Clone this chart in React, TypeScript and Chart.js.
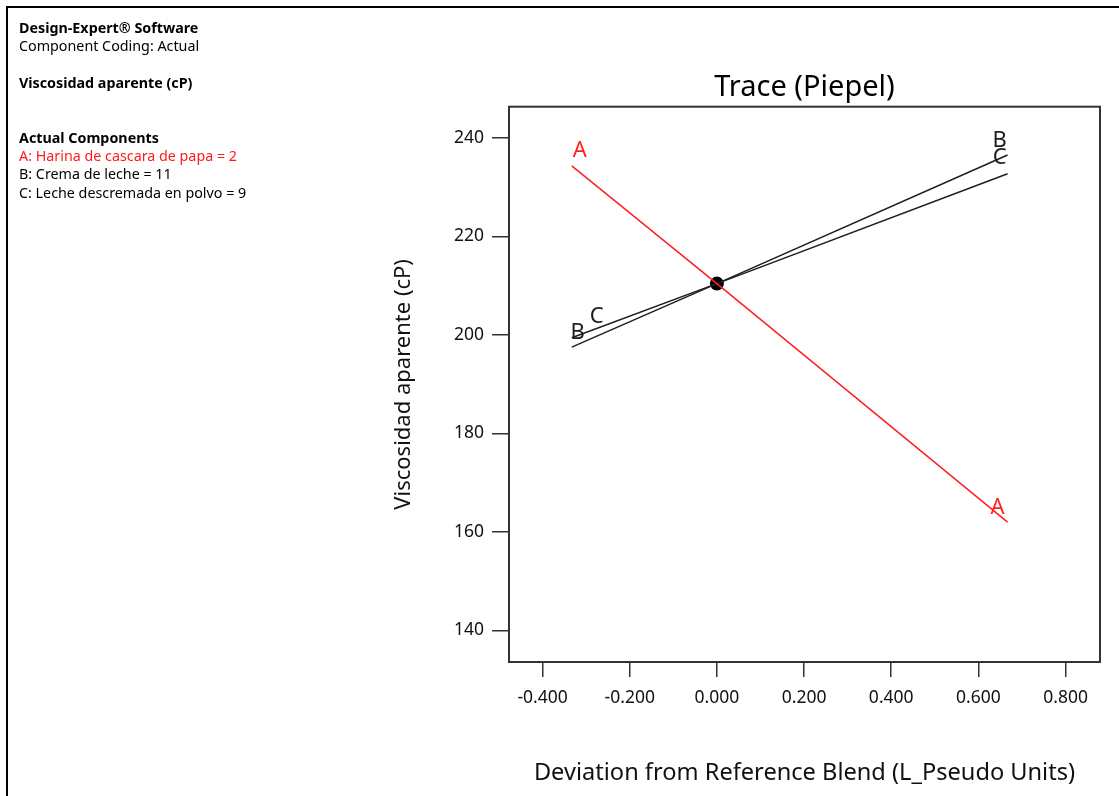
import React, { useEffect, useRef } from "react";
import { Chart, registerables } from "chart.js";

Chart.register(...registerables);

// ---- data ----
const TRACE_X = [-0.333, 0, 0.667];
const A_VALUES = [234.3, 210.4, 162.0];
const B_VALUES = [197.5, 210.4, 236.5];
const C_VALUES = [199.4, 210.4, 232.7];
const REF_X = [0];
const REF_Y = [210.4];
const COMPONENT_NAMES = ["A", "B", "C"];
const X_TICKS = [-0.4, -0.2, 0, 0.2, 0.4, 0.6, 0.8];
const Y_TICKS = [140, 160, 180, 200, 220, 240];
const X_MIN = -0.477;
const X_MAX = 0.879;
const Y_MIN = 133.6;
const Y_MAX = 246.3;

const INFO_LINES = [
  { text: "Design-Expert® Software", bold: true, color: "#000" },
  { text: "Component Coding: Actual", bold: false, color: "#000" },
  { text: "", bold: false, color: "#000" },
  { text: "Viscosidad aparente (cP)", bold: true, color: "#000" },
  { text: "", bold: false, color: "#000" },
  { text: "", bold: false, color: "#000" },
  { text: "Actual Components", bold: true, color: "#000" },
  { text: "A: Harina de cascara de papa = 2", bold: false, color: "#ff1a1a" },
  { text: "B: Crema de leche = 11", bold: false, color: "#000" },
  { text: "C: Leche descremada en polvo = 9", bold: false, color: "#000" },
];

const FONT = "'Noto Sans', 'Open Sans', sans-serif";
const RED = "#ff1f1f";
const DARK = "#1e1e1e";

// label offsets (px) relative to start / end points of each trace
const START_OFFSETS = [
  [8, -15],
  [6, -14],
  [25, -21],
];
const END_OFFSETS = [
  [-10, -14],
  [-8, -14],
  [-8, -16],
];

const framePlugin = {
  id: "frame",
  afterDraw(chart: any) {
    const { ctx, chartArea } = chart;
    ctx.save();
    ctx.strokeStyle = "#333";
    ctx.lineWidth = 2;
    ctx.strokeRect(
      chartArea.left,
      chartArea.top,
      chartArea.right - chartArea.left,
      chartArea.bottom - chartArea.top
    );
    ctx.restore();
  },
};

const traceLabelPlugin = {
  id: "traceLabels",
  afterDatasetsDraw(chart: any) {
    const { ctx } = chart;
    ctx.save();
    ctx.font = `22px ${FONT}`;
    ctx.textAlign = "center";
    ctx.textBaseline = "middle";
    for (let i = 0; i < 3; i++) {
      const meta = chart.getDatasetMeta(i);
      const pts = meta.data;
      const color = chart.data.datasets[i].borderColor;
      ctx.fillStyle = color;
      const p0 = pts[0];
      const p1 = pts[pts.length - 1];
      ctx.fillText(
        COMPONENT_NAMES[i],
        p0.x + START_OFFSETS[i][0],
        p0.y + START_OFFSETS[i][1]
      );
      ctx.fillText(
        COMPONENT_NAMES[i],
        p1.x + END_OFFSETS[i][0],
        p1.y + END_OFFSETS[i][1]
      );
    }
    ctx.restore();
  },
};

export default function App() {
  const canvasRef = useRef<HTMLCanvasElement | null>(null);

  useEffect(() => {
    if (!canvasRef.current) return;
    const toPts = (ys: number[]) => TRACE_X.map((x, i) => ({ x, y: ys[i] }));
    const chart = new Chart(canvasRef.current, {
      type: "line",
      data: {
        datasets: [
          {
            label: "A",
            data: toPts(A_VALUES),
            borderColor: RED,
            borderWidth: 1.5,
            pointRadius: 0,
            tension: 0,
          },
          {
            label: "B",
            data: toPts(B_VALUES),
            borderColor: DARK,
            borderWidth: 1.5,
            pointRadius: 0,
            tension: 0,
          },
          {
            label: "C",
            data: toPts(C_VALUES),
            borderColor: DARK,
            borderWidth: 1.5,
            pointRadius: 0,
            tension: 0,
          },
          {
            label: "Reference",
            data: REF_X.map((x, i) => ({ x, y: REF_Y[i] })),
            borderColor: "#000",
            backgroundColor: "#000",
            showLine: false,
            pointRadius: 7,
            pointBorderWidth: 0,
          },
        ],
      },
      options: {
        animation: false,
        responsive: false,
        maintainAspectRatio: false,
        layout: { padding: { left: 0, right: 19, top: 0, bottom: 0 } },
        plugins: {
          legend: { display: false },
          tooltip: { enabled: false },
          title: {
            display: true,
            text: "Trace (Piepel)",
            fullSize: false,
            color: "#000",
            font: { family: FONT, size: 29, weight: "normal", lineHeight: 1.2 },
            padding: { top: 70.6, bottom: 1.3 },
          },
        },
        scales: {
          x: {
            type: "linear",
            min: X_MIN,
            max: X_MAX,
            afterFit: (s: any) => {
              s.height = 134;
            },
            afterBuildTicks: (s: any) => {
              s.ticks = X_TICKS.map((v) => ({ value: v }));
            },
            ticks: {
              callback: (v: any) => Number(v).toFixed(3),
              color: "#111",
              font: { family: FONT, size: 17.5 },
              padding: 11,
              maxRotation: 0,
              autoSkip: false,
            },
            grid: {
              display: true,
              drawOnChartArea: false,
              drawTicks: true,
              tickLength: 15,
              color: "#333",
              lineWidth: 1.5,
            },
            border: { display: false },
            title: {
              display: true,
              text: "Deviation from Reference Blend (L_Pseudo Units)",
              color: "#111",
              font: { family: FONT, size: 23.6, lineHeight: 1.2 },
              padding: { top: 0, bottom: 8.8 },
            },
          },
          y: {
            type: "linear",
            min: Y_MIN,
            max: Y_MAX,
            afterFit: (s: any) => {
              s.width = 509;
            },
            afterBuildTicks: (s: any) => {
              s.ticks = Y_TICKS.map((v) => ({ value: v }));
            },
            ticks: {
              callback: (v: any) => String(Math.round(Number(v))),
              color: "#111",
              font: { family: FONT, size: 17.5 },
              padding: 8,
              autoSkip: false,
            },
            grid: {
              display: true,
              drawOnChartArea: false,
              drawTicks: true,
              tickLength: 17,
              color: "#333",
              lineWidth: 1.5,
            },
            border: { display: false },
            title: {
              display: true,
              text: "Viscosidad aparente (cP)",
              color: "#111",
              font: { family: FONT, size: 22, lineHeight: 1.2 },
              padding: { top: 390.8, bottom: 0 },
            },
          },
        },
      },
      plugins: [framePlugin, traceLabelPlugin],
    } as any);
    return () => chart.destroy();
  }, []);

  return (
    <div
      style={{
        position: "absolute",
        left: 0,
        top: 0,
        width: 1119,
        height: 796,
        background: "#fff",
        overflow: "hidden",
      }}
    >
      <canvas
        ref={canvasRef}
        width={1119}
        height={796}
        style={{ position: "absolute", left: 0, top: 0, width: 1119, height: 796 }}
      />
      <div
        style={{
          position: "absolute",
          left: 6,
          top: 6,
          right: 0,
          bottom: 0,
          borderLeft: "2px solid #000",
          borderTop: "2px solid #000",
          pointerEvents: "none",
        }}
      />
      <div
        style={{
          position: "absolute",
          left: 19,
          top: 19,
          fontFamily: FONT,
          fontSize: 14.3,
          lineHeight: "18.3px",
          whiteSpace: "pre",
        }}
      >
        {INFO_LINES.map((l, i) => (
          <div
            key={i}
            style={{ fontWeight: l.bold ? 700 : 400, color: l.color, height: 18.3 }}
          >
            {l.text || " "}
          </div>
        ))}
      </div>
    </div>
  );
}
